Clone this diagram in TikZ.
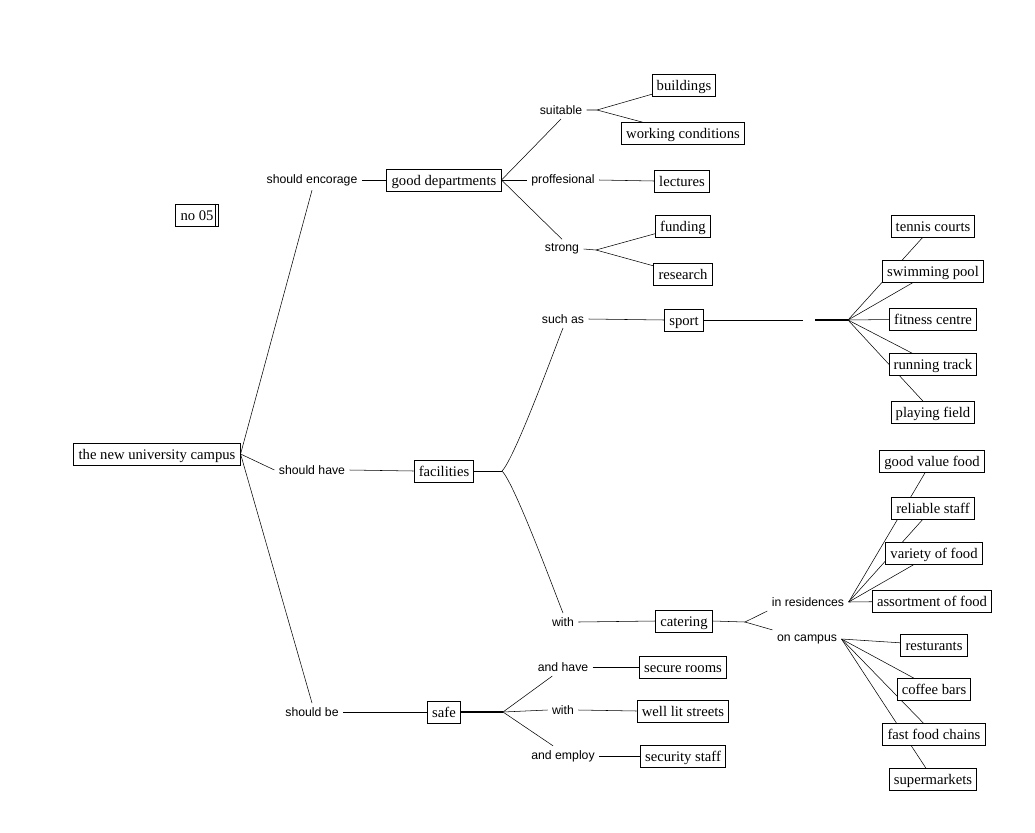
\documentclass[tikz,border=0pt]{standalone}
\usepackage{fontspec}
\setmainfont{Liberation Serif}
\setsansfont{Liberation Sans}
\usetikzlibrary{backgrounds}
\begin{document}
\begin{tikzpicture}[x=0.75pt, y=-0.75pt, line width=0.75pt, every node/.style={font=\fontsize{11}{13}\selectfont}]
  \tikzstyle{mybox}=[draw,fill=white,inner xsep=3.5pt,inner ysep=0pt,text height=9pt,text depth=1.4pt,minimum height=16.5pt]
  \tikzstyle{mylabel}=[font=\sffamily\fontsize{9.2}{11}\selectfont,inner sep=3pt]
  \tikzstyle{thickline}=[line width=1.6pt]
  \useasboundingbox (0,0) rectangle (1035,832);
  % main branches
  \node[mybox] (root) at (157,454) {the new university campus};
  \node[mybox] (no) at (197,215) {no 05\hspace{3pt}};
  \draw ([xshift=-2.6pt]no.north east) -- ([xshift=-2.6pt]no.south east);
  \node[mylabel] (se) at (312,180) {should encorage};
  \node[mylabel] (sh) at (312,470) {should have};
  \node[mylabel] (sb) at (312,712) {should be};
  \node[mybox] (gd) at (444,180) {good departments};
  \node[mybox] (fac) at (444,471) {facilities};
  \node[mybox] (safe) at (444,712) {safe};
  % good departments
  \node[mylabel] (suit) at (561,110) {suitable};
  \node[mylabel] (prof) at (563,180) {proffesional};
  \node[mylabel] (strong) at (562,249) {strong};
  \node[mybox] (bld) at (684,85) {buildings};
  \node[mybox] (wc) at (683,133) {working conditions};
  \node[mybox] (lec) at (682,181) {lectures};
  \node[mybox] (fund) at (683,226) {funding};
  \node[mybox] (res) at (683,274) {research};
  % facilities
  \node[mylabel] (such) at (563,319) {such as};
  \node[mybox] (sport) at (684,320) {sport};
  \node[mybox] (ten) at (933,226) {tennis courts};
  \node[mybox] (swim) at (933,271) {swimming pool};
  \node[mybox] (fit) at (933,319) {fitness centre};
  \node[mybox] (run) at (933,364) {running track};
  \node[mybox] (play) at (933,412) {playing field};
  \node[mylabel] (with) at (563,622) {with};
  \node[mybox] (cat) at (684,621) {catering};
  \node[mylabel] (inres) at (808,602) {in residences};
  \node[mylabel] (oncamp) at (807,639) {on campus};
  \node[mybox] (gvf) at (932,461) {good value food};
  \node[mybox] (rel) at (933,508) {reliable staff};
  \node[mybox] (var) at (934,553) {variety of food};
  \node[mybox] (ass) at (932,601) {assortment of food};
  \node[mybox] (rest) at (934,645) {resturants};
  \node[mybox] (cof) at (934,689) {coffee bars};
  \node[mybox] (fast) at (934,734) {fast food chains};
  \node[mybox] (sup) at (933,779) {supermarkets};
  % safe
  \node[mylabel] (ah) at (563,667) {and have};
  \node[mylabel] (with2) at (563,710) {with};
  \node[mylabel] (ae) at (563,756) {and employ};
  \node[mybox] (sec) at (683,667) {secure rooms};
  \node[mybox] (well) at (683,711) {well lit streets};
  \node[mybox] (secs) at (683,756) {security staff};
  % branch points
  \coordinate (suith) at (597,110);
  \coordinate (strh) at (596,250);
  \coordinate (fach) at (502,471);
  \coordinate (sph1) at (803,320);
  \coordinate (sph2) at (815,320);
  \coordinate (sph) at (848,320);
  \coordinate (cath) at (745,622);
  \coordinate (safeh) at (503,712);
  \begin{pgfonlayer}{background}
    \draw (root.east) -- (se.south);
    \draw (root.east) -- (sh.west);
    \draw (root.east) -- (sb.north);
    \draw (se.east) -- (gd.west);
    \draw (sh.east) -- (fac.west);
    \draw (sb.east) -- (safe.west);
    \draw (gd.east) -- (suit.south);
    \draw (gd.east) -- (prof.west);
    \draw (gd.east) -- (strong.north);
    \draw (suit.east) -- (suith) -- (bld.center);
    \draw (suith) -- (wc.center);
    \draw (prof.east) -- (lec.west);
    \draw (strong.east) -- (strh) -- (fund.center);
    \draw (strh) -- (res.center);
    \draw (fac.east) -- (fach);
    \draw (fach) to[out=45,in=-112,looseness=0.3] (such.south);
    \draw (fach) to[out=-45,in=112,looseness=0.3] (with.north);
    \draw (such.east) -- (sport.west);
    \draw (sport.east) -- (sph1);
    \draw[thickline] (sph2) -- (sph);
    \foreach \n in {ten,swim,fit,run,play}
      \draw (sph) -- (\n.center);
    \draw (with.east) -- (cat.west);
    \draw (cat.east) -- (cath) -- (inres.south west);
    \draw (cath) -- (oncamp.north west);
    \foreach \n in {gvf,rel,var,ass}
      \draw (inres.east) -- (\n.center);
    \foreach \n in {rest,cof,fast,sup}
      \draw (oncamp.east) -- (\n.center);
    \draw[thickline] (safe.east) -- (safeh);
    \draw (safeh) -- ([xshift=-8pt]ah.south);
    \draw (safeh) -- (with2.west);
    \draw (safeh) -- ([xshift=-7.5pt]ae.north);
    \draw (ah.east) -- (sec.west);
    \draw (with2.east) -- (well.west);
    \draw (ae.east) -- (secs.west);
  \end{pgfonlayer}
\end{tikzpicture}
\end{document}
